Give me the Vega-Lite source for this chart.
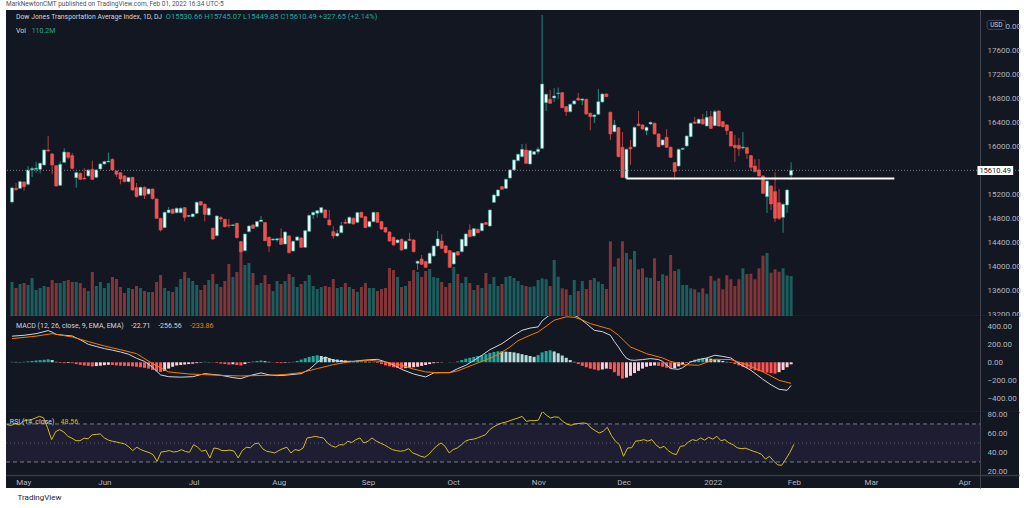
{
"$schema":"https://vega.github.io/schema/vega-lite/v6.json",
"background":"#ffffff",
"padding":{"left":5,"top":1,"right":0,"bottom":0},
"title":{"text":"MarkNewtonCMT published on TradingView.com, Feb 01, 2022 16:34 UTC-5","anchor":"start","frame":"group","fontSize":6.5,"fontWeight":"normal","color":"#50535e","font":"Roboto","offset":2.5},
"config":{"font":"Roboto","view":{"stroke":null,"fill":"#131722"},"axis":{"labelOverlap":false,"zindex":0,"tickCount":40}},
"spacing":0,
"bounds":"flush",
"datasets":{
"bars":[
{"i":-4,"o":15083,"h":15340,"l":15060,"c":15317,"v":93.7,"mh":5,"r":69.3},
{"i":-3,"o":15310,"h":15400,"l":15267,"c":15290,"v":77.1,"mh":4,"r":68.5},
{"i":-2,"o":15311,"h":15440,"l":15300,"c":15422,"v":88.2,"mh":3,"r":70.5},
{"i":-1,"o":15417,"h":15430,"l":15272,"c":15339,"v":90.9,"mh":6,"r":69},
{"i":0,"o":15378,"h":15683,"l":15360,"c":15617,"v":85.4,"mh":10,"r":73},
{"i":1,"o":15620,"h":15672,"l":15500,"c":15640,"v":104.7,"mh":15,"r":74},
{"i":2,"o":15630,"h":15756,"l":15572,"c":15645,"v":71.6,"mh":20,"r":74.5},
{"i":3,"o":15628,"h":15740,"l":15561,"c":15728,"v":77.1,"mh":24,"r":76.3},
{"i":4,"o":15700,"h":15960,"l":15690,"c":15950,"v":82.7,"mh":28,"r":78},
{"i":5,"o":15950,"h":16183,"l":15920,"c":15933,"v":79.9,"mh":33,"r":76.5},
{"i":6,"o":15883,"h":15900,"l":15545,"c":15700,"v":99.2,"mh":25,"r":66},
{"i":7,"o":15689,"h":15700,"l":15340,"c":15350,"v":90.9,"mh":5,"r":53.5},
{"i":8,"o":15361,"h":15761,"l":15350,"c":15711,"v":90.9,"mh":-8,"r":62},
{"i":9,"o":15745,"h":15978,"l":15730,"c":15917,"v":96.4,"mh":-10,"r":64},
{"i":10,"o":15906,"h":15920,"l":15800,"c":15828,"v":99.2,"mh":-8,"r":61.6},
{"i":11,"o":15856,"h":15900,"l":15630,"c":15644,"v":93.7,"mh":-10,"r":57},
{"i":12,"o":15488,"h":15590,"l":15322,"c":15572,"v":93.7,"mh":-20,"r":55},
{"i":13,"o":15561,"h":15575,"l":15450,"c":15461,"v":90.9,"mh":-28,"r":52.4},
{"i":14,"o":15483,"h":15645,"l":15455,"c":15467,"v":77.1,"mh":-35,"r":52.4},
{"i":15,"o":15517,"h":15630,"l":15505,"c":15617,"v":68.9,"mh":-40,"r":55},
{"i":16,"o":15628,"h":15772,"l":15450,"c":15461,"v":121.2,"mh":-45,"r":54.5},
{"i":17,"o":15494,"h":15630,"l":15480,"c":15617,"v":82.7,"mh":-42,"r":58.7},
{"i":18,"o":15633,"h":15730,"l":15620,"c":15717,"v":93.7,"mh":-38,"r":59},
{"i":19,"o":15717,"h":15770,"l":15705,"c":15756,"v":77.1,"mh":-32,"r":59.5},
{"i":20,"o":15750,"h":15906,"l":15740,"c":15765,"v":90.9,"mh":-28,"r":55.3},
{"i":21,"o":15794,"h":15810,"l":15600,"c":15617,"v":107.4,"mh":-30,"r":53},
{"i":22,"o":15600,"h":15610,"l":15500,"c":15545,"v":101.9,"mh":-35,"r":51.8},
{"i":23,"o":15572,"h":15580,"l":15378,"c":15467,"v":79.9,"mh":-38,"r":51},
{"i":24,"o":15517,"h":15530,"l":15410,"c":15422,"v":63.4,"mh":-40,"r":50},
{"i":25,"o":15422,"h":15500,"l":15410,"c":15489,"v":77.1,"mh":-42,"r":49},
{"i":26,"o":15494,"h":15500,"l":15270,"c":15283,"v":74.4,"mh":-45,"r":46},
{"i":27,"o":15322,"h":15400,"l":15160,"c":15172,"v":82.7,"mh":-50,"r":42},
{"i":28,"o":15194,"h":15340,"l":15180,"c":15328,"v":77.1,"mh":-55,"r":45.5},
{"i":29,"o":15328,"h":15340,"l":15133,"c":15194,"v":68.9,"mh":-62,"r":43},
{"i":30,"o":15217,"h":15310,"l":15205,"c":15300,"v":66.1,"mh":-70,"r":41.3},
{"i":31,"o":15300,"h":15310,"l":15125,"c":15139,"v":66.1,"mh":-85,"r":40},
{"i":32,"o":15133,"h":15145,"l":14800,"c":14811,"v":93.7,"mh":-100,"r":37.7},
{"i":33,"o":14811,"h":14820,"l":14589,"c":14617,"v":113,"mh":-107,"r":30.7},
{"i":34,"o":14656,"h":14925,"l":14645,"c":14911,"v":77.1,"mh":-95,"r":40.5},
{"i":35,"o":14905,"h":15000,"l":14895,"c":14950,"v":68.9,"mh":-70,"r":41},
{"i":36,"o":14961,"h":14975,"l":14880,"c":14894,"v":66.1,"mh":-50,"r":42},
{"i":37,"o":14905,"h":14990,"l":14895,"c":14978,"v":79.9,"mh":-35,"r":40.5},
{"i":38,"o":14905,"h":14995,"l":14895,"c":14978,"v":101.9,"mh":-30,"r":41},
{"i":39,"o":14989,"h":15000,"l":14761,"c":14828,"v":121.2,"mh":-25,"r":43},
{"i":40,"o":14845,"h":14870,"l":14830,"c":14858,"v":104.7,"mh":-20,"r":41},
{"i":41,"o":14839,"h":14895,"l":14825,"c":14883,"v":96.4,"mh":-15,"r":40.2},
{"i":42,"o":14894,"h":15090,"l":14880,"c":15078,"v":85.4,"mh":-10,"r":48.2},
{"i":43,"o":15089,"h":15100,"l":15020,"c":15033,"v":71.6,"mh":-5,"r":45.5},
{"i":44,"o":15045,"h":15060,"l":14761,"c":14878,"v":85.4,"mh":5,"r":41.3},
{"i":45,"o":14867,"h":14990,"l":14855,"c":14978,"v":99.2,"mh":3,"r":42.5},
{"i":46,"o":14644,"h":14660,"l":14450,"c":14467,"v":115.7,"mh":-3,"r":34.2},
{"i":47,"o":14522,"h":14860,"l":14510,"c":14850,"v":88.2,"mh":-8,"r":44.7},
{"i":48,"o":14820,"h":14850,"l":14750,"c":14800,"v":79.9,"mh":-15,"r":44},
{"i":49,"o":14794,"h":14805,"l":14660,"c":14672,"v":96.4,"mh":-20,"r":42},
{"i":50,"o":14700,"h":14800,"l":14650,"c":14690,"v":143.3,"mh":-25,"r":42},
{"i":51,"o":14690,"h":14720,"l":14680,"c":14702,"v":107.4,"mh":-22,"r":42.5},
{"i":52,"o":14728,"h":14740,"l":14475,"c":14489,"v":121.2,"mh":-30,"r":41.3},
{"i":53,"o":14422,"h":14435,"l":14240,"c":14255,"v":184.6,"mh":-35,"r":34.2},
{"i":54,"o":14272,"h":14560,"l":14260,"c":14550,"v":140.5,"mh":-20,"r":42},
{"i":55,"o":14589,"h":14695,"l":14578,"c":14683,"v":146,"mh":-5,"r":45.5},
{"i":56,"o":14700,"h":14710,"l":14630,"c":14645,"v":118.5,"mh":8,"r":45},
{"i":57,"o":14672,"h":14768,"l":14660,"c":14756,"v":85.4,"mh":15,"r":49},
{"i":58,"o":14756,"h":14850,"l":14745,"c":14783,"v":90.9,"mh":20,"r":50},
{"i":59,"o":14739,"h":14750,"l":14425,"c":14439,"v":113,"mh":12,"r":44},
{"i":60,"o":14495,"h":14505,"l":14250,"c":14350,"v":88.2,"mh":5,"r":41.3},
{"i":61,"o":14450,"h":14480,"l":14440,"c":14465,"v":68.9,"mh":-3,"r":40.5},
{"i":62,"o":14450,"h":14480,"l":14420,"c":14470,"v":96.4,"mh":-8,"r":39.5},
{"i":63,"o":14478,"h":14645,"l":14365,"c":14378,"v":88.2,"mh":-10,"r":42},
{"i":64,"o":14383,"h":14595,"l":14370,"c":14583,"v":96.4,"mh":-6,"r":44},
{"i":65,"o":14517,"h":14530,"l":14225,"c":14239,"v":115.7,"mh":-3,"r":45.5},
{"i":66,"o":14267,"h":14440,"l":14255,"c":14428,"v":107.4,"mh":5,"r":39.5},
{"i":67,"o":14445,"h":14512,"l":14435,"c":14500,"v":79.9,"mh":15,"r":43},
{"i":68,"o":14483,"h":14495,"l":14315,"c":14328,"v":88.2,"mh":30,"r":42},
{"i":69,"o":14328,"h":14615,"l":14315,"c":14605,"v":96.4,"mh":45,"r":44.7},
{"i":70,"o":14594,"h":14872,"l":14580,"c":14861,"v":113,"mh":60,"r":55.3},
{"i":71,"o":14867,"h":14923,"l":14800,"c":14911,"v":82.7,"mh":70,"r":56},
{"i":72,"o":14895,"h":14950,"l":14820,"c":14939,"v":74.4,"mh":78,"r":57},
{"i":73,"o":14905,"h":15000,"l":14890,"c":14989,"v":79.9,"mh":70,"r":56},
{"i":74,"o":14950,"h":14960,"l":14810,"c":14822,"v":82.7,"mh":60,"r":55.3},
{"i":75,"o":14783,"h":14950,"l":14690,"c":14700,"v":79.9,"mh":45,"r":50},
{"i":76,"o":14589,"h":14680,"l":14470,"c":14517,"v":101.9,"mh":35,"r":47},
{"i":77,"o":14517,"h":14620,"l":14505,"c":14561,"v":77.1,"mh":30,"r":45.5},
{"i":78,"o":14572,"h":14750,"l":14560,"c":14689,"v":79.9,"mh":25,"r":48.2},
{"i":79,"o":14745,"h":14800,"l":14715,"c":14728,"v":90.9,"mh":20,"r":48},
{"i":80,"o":14728,"h":14840,"l":14715,"c":14828,"v":79.9,"mh":15,"r":51.8},
{"i":81,"o":14812,"h":14825,"l":14705,"c":14717,"v":74.4,"mh":12,"r":50.5},
{"i":82,"o":14745,"h":14918,"l":14733,"c":14906,"v":66.1,"mh":10,"r":53.5},
{"i":83,"o":14911,"h":14923,"l":14815,"c":14828,"v":79.9,"mh":10,"r":55.3},
{"i":84,"o":14839,"h":14850,"l":14645,"c":14656,"v":90.9,"mh":8,"r":50},
{"i":85,"o":14672,"h":14768,"l":14660,"c":14756,"v":77.1,"mh":5,"r":51.8},
{"i":86,"o":14756,"h":14923,"l":14745,"c":14911,"v":77.1,"mh":2,"r":55.3},
{"i":87,"o":14906,"h":14918,"l":14733,"c":14745,"v":68.9,"mh":-8,"r":52},
{"i":88,"o":14756,"h":14768,"l":14620,"c":14633,"v":74.4,"mh":-20,"r":50},
{"i":89,"o":14656,"h":14668,"l":14570,"c":14583,"v":77.1,"mh":-35,"r":48},
{"i":90,"o":14583,"h":14595,"l":14420,"c":14433,"v":132.2,"mh":-45,"r":45.5},
{"i":91,"o":14495,"h":14505,"l":14355,"c":14367,"v":126.7,"mh":-55,"r":43},
{"i":92,"o":14405,"h":14462,"l":14393,"c":14450,"v":107.4,"mh":-62,"r":42},
{"i":93,"o":14461,"h":14473,"l":14270,"c":14283,"v":79.9,"mh":-70,"r":41.3},
{"i":94,"o":14300,"h":14440,"l":14288,"c":14428,"v":82.7,"mh":-65,"r":42},
{"i":95,"o":14461,"h":14570,"l":14433,"c":14445,"v":96.4,"mh":-60,"r":44},
{"i":96,"o":14450,"h":14462,"l":14243,"c":14255,"v":126.7,"mh":-55,"r":39.5},
{"i":97,"o":14061,"h":14107,"l":13950,"c":14095,"v":121.2,"mh":-50,"r":38},
{"i":98,"o":14133,"h":14200,"l":14033,"c":14045,"v":107.4,"mh":-40,"r":36},
{"i":99,"o":14089,"h":14101,"l":13983,"c":13995,"v":124,"mh":-30,"r":35},
{"i":100,"o":14061,"h":14240,"l":14049,"c":14228,"v":129.5,"mh":-20,"r":38},
{"i":101,"o":14183,"h":14362,"l":14171,"c":14350,"v":107.4,"mh":-10,"r":43},
{"i":102,"o":14350,"h":14600,"l":14338,"c":14467,"v":104.7,"mh":-5,"r":47},
{"i":103,"o":14433,"h":14545,"l":14299,"c":14311,"v":93.7,"mh":-3,"r":50},
{"i":104,"o":14350,"h":14362,"l":14227,"c":14239,"v":79.9,"mh":0,"r":46.5},
{"i":105,"o":14272,"h":14284,"l":13983,"c":13995,"v":90.9,"mh":3,"r":39.5},
{"i":106,"o":14050,"h":14251,"l":14038,"c":14239,"v":135,"mh":-2,"r":43},
{"i":107,"o":14255,"h":14267,"l":14188,"c":14200,"v":115.7,"mh":10,"r":44.7},
{"i":108,"o":14255,"h":14473,"l":14243,"c":14461,"v":90.9,"mh":25,"r":48},
{"i":109,"o":14350,"h":14562,"l":14338,"c":14550,"v":107.4,"mh":40,"r":51.8},
{"i":110,"o":14617,"h":14711,"l":14494,"c":14506,"v":90.9,"mh":50,"r":53.5},
{"i":111,"o":14517,"h":14651,"l":14505,"c":14639,"v":71.6,"mh":60,"r":54},
{"i":112,"o":14628,"h":14640,"l":14560,"c":14572,"v":85.4,"mh":70,"r":55.3},
{"i":113,"o":14605,"h":14740,"l":14593,"c":14728,"v":77.1,"mh":78,"r":57},
{"i":114,"o":14739,"h":14751,"l":14699,"c":14711,"v":118.5,"mh":90,"r":58.8},
{"i":115,"o":14683,"h":14962,"l":14671,"c":14950,"v":88.2,"mh":105,"r":64},
{"i":116,"o":15078,"h":15212,"l":15066,"c":15200,"v":107.4,"mh":115,"r":67},
{"i":117,"o":15183,"h":15295,"l":15171,"c":15283,"v":82.7,"mh":122,"r":69.3},
{"i":118,"o":15339,"h":15351,"l":15283,"c":15295,"v":88.2,"mh":120,"r":71},
{"i":119,"o":15311,"h":15473,"l":15299,"c":15461,"v":107.4,"mh":118,"r":72},
{"i":120,"o":15483,"h":15629,"l":15471,"c":15617,"v":110.2,"mh":115,"r":73.5},
{"i":121,"o":15617,"h":15795,"l":15605,"c":15783,"v":104.7,"mh":110,"r":75},
{"i":122,"o":15772,"h":15890,"l":15760,"c":15878,"v":96.4,"mh":100,"r":76.3},
{"i":123,"o":15839,"h":16050,"l":15827,"c":15961,"v":85.4,"mh":90,"r":78},
{"i":124,"o":15950,"h":16055,"l":15716,"c":15728,"v":82.7,"mh":80,"r":72.8},
{"i":125,"o":15717,"h":15951,"l":15705,"c":15939,"v":79.9,"mh":70,"r":73.5},
{"i":126,"o":15878,"h":15934,"l":15866,"c":15922,"v":81.8,"mh":60,"r":73.5},
{"i":127,"o":15922,"h":16000,"l":15880,"c":15961,"v":99.2,"mh":80,"r":74},
{"i":128,"o":15978,"h":18200,"l":15966,"c":17050,"v":103.9,"mh":110,"r":83.3},
{"i":129,"o":16739,"h":16890,"l":16600,"c":16878,"v":101.1,"mh":125,"r":79.2},
{"i":130,"o":16795,"h":16950,"l":16716,"c":16728,"v":82.7,"mh":133,"r":76.3},
{"i":131,"o":16817,"h":16980,"l":16750,"c":16850,"v":154.3,"mh":120,"r":77.5},
{"i":132,"o":16890,"h":16990,"l":16800,"c":16900,"v":108.3,"mh":100,"r":77},
{"i":133,"o":16905,"h":16917,"l":16643,"c":16655,"v":76.3,"mh":75,"r":72.8},
{"i":134,"o":16672,"h":16684,"l":16520,"c":16589,"v":73.6,"mh":50,"r":70},
{"i":135,"o":16589,"h":16723,"l":16577,"c":16711,"v":57.9,"mh":25,"r":68.6},
{"i":136,"o":16717,"h":16779,"l":16705,"c":16767,"v":99.2,"mh":5,"r":70},
{"i":137,"o":16811,"h":16900,"l":16771,"c":16783,"v":68.9,"mh":-20,"r":70.5},
{"i":138,"o":16780,"h":16812,"l":16700,"c":16800,"v":96.4,"mh":-40,"r":71},
{"i":139,"o":16795,"h":16807,"l":16538,"c":16550,"v":74.4,"mh":-55,"r":70.5},
{"i":140,"o":16561,"h":16573,"l":16280,"c":16505,"v":99.2,"mh":-70,"r":65.8},
{"i":141,"o":16505,"h":16545,"l":16400,"c":16533,"v":104.7,"mh":-80,"r":63},
{"i":142,"o":16545,"h":16970,"l":16533,"c":16755,"v":94.5,"mh":-90,"r":60.5},
{"i":143,"o":16750,"h":16895,"l":16738,"c":16883,"v":88.2,"mh":-80,"r":62.3},
{"i":144,"o":16883,"h":16895,"l":16827,"c":16839,"v":74.4,"mh":-70,"r":66.5},
{"i":145,"o":16578,"h":16590,"l":16117,"c":16217,"v":205.8,"mh":-75,"r":58},
{"i":146,"o":16255,"h":16450,"l":16243,"c":16367,"v":135.8,"mh":-110,"r":51.8},
{"i":147,"o":16322,"h":16334,"l":15827,"c":15839,"v":159,"mh":-150,"r":48.2},
{"i":148,"o":15995,"h":16250,"l":15483,"c":15495,"v":205.8,"mh":-181,"r":36},
{"i":149,"o":15478,"h":15973,"l":15466,"c":15961,"v":173.6,"mh":-170,"r":44.7},
{"i":150,"o":15995,"h":16117,"l":15700,"c":15967,"v":156.2,"mh":-150,"r":45},
{"i":151,"o":16005,"h":16340,"l":15993,"c":16328,"v":179.1,"mh":-120,"r":52},
{"i":152,"o":16383,"h":16600,"l":16343,"c":16355,"v":128.7,"mh":-95,"r":52.4},
{"i":153,"o":16367,"h":16379,"l":16288,"c":16300,"v":131.4,"mh":-70,"r":53.5},
{"i":154,"o":16272,"h":16340,"l":16200,"c":16328,"v":106.6,"mh":-50,"r":52},
{"i":155,"o":16383,"h":16423,"l":16371,"c":16411,"v":104.7,"mh":-40,"r":53.5},
{"i":156,"o":16395,"h":16407,"l":16205,"c":16217,"v":159,"mh":-35,"r":48},
{"i":157,"o":16217,"h":16229,"l":15993,"c":16005,"v":96.4,"mh":-40,"r":44.7},
{"i":158,"o":16033,"h":16129,"l":16021,"c":16117,"v":114.9,"mh":-50,"r":46.5},
{"i":159,"o":16161,"h":16300,"l":15983,"c":15995,"v":111,"mh":-60,"r":42},
{"i":160,"o":15995,"h":16007,"l":15816,"c":15828,"v":168.1,"mh":-70,"r":39},
{"i":161,"o":15739,"h":15751,"l":15450,"c":15589,"v":124,"mh":-65,"r":37.7},
{"i":162,"o":15683,"h":15973,"l":15671,"c":15961,"v":128.7,"mh":-45,"r":46.5},
{"i":163,"o":15961,"h":15990,"l":15949,"c":15978,"v":85.4,"mh":-25,"r":47},
{"i":164,"o":16017,"h":16195,"l":16005,"c":16183,"v":85.4,"mh":-5,"r":51},
{"i":165,"o":16172,"h":16407,"l":16160,"c":16395,"v":76.3,"mh":15,"r":53.5},
{"i":166,"o":16417,"h":16500,"l":16383,"c":16395,"v":73.6,"mh":30,"r":52.4},
{"i":167,"o":16395,"h":16473,"l":16383,"c":16461,"v":65.3,"mh":40,"r":55.3},
{"i":168,"o":16461,"h":16550,"l":16371,"c":16383,"v":76.3,"mh":48,"r":53},
{"i":169,"o":16350,"h":16600,"l":16338,"c":16495,"v":61.4,"mh":45,"r":56},
{"i":170,"o":16505,"h":16600,"l":16299,"c":16311,"v":110.2,"mh":40,"r":54},
{"i":171,"o":16355,"h":16620,"l":16343,"c":16589,"v":97.3,"mh":32,"r":57},
{"i":172,"o":16600,"h":16612,"l":16338,"c":16350,"v":103.9,"mh":25,"r":52.4},
{"i":173,"o":16422,"h":16434,"l":16327,"c":16339,"v":73.6,"mh":15,"r":53.5},
{"i":174,"o":16367,"h":16379,"l":16200,"c":16272,"v":112.1,"mh":5,"r":50},
{"i":175,"o":16255,"h":16267,"l":16005,"c":16017,"v":101.1,"mh":-8,"r":48.2},
{"i":176,"o":16028,"h":16200,"l":15750,"c":15989,"v":82.7,"mh":-20,"r":45},
{"i":177,"o":16028,"h":16150,"l":15850,"c":15972,"v":101.1,"mh":-35,"r":44},
{"i":178,"o":15985,"h":16250,"l":15960,"c":16000,"v":131.4,"mh":-50,"r":44.5},
{"i":179,"o":15989,"h":16001,"l":15800,"c":15895,"v":115.7,"mh":-62,"r":43},
{"i":180,"o":15856,"h":15868,"l":15600,"c":15661,"v":116.5,"mh":-75,"r":41.3},
{"i":181,"o":15683,"h":15800,"l":15577,"c":15589,"v":101.1,"mh":-88,"r":40},
{"i":182,"o":15617,"h":15800,"l":15505,"c":15517,"v":131.4,"mh":-98,"r":38},
{"i":183,"o":15517,"h":15529,"l":15216,"c":15228,"v":166.1,"mh":-108,"r":33},
{"i":184,"o":15172,"h":15445,"l":14900,"c":15433,"v":173.6,"mh":-115,"r":36},
{"i":185,"o":15350,"h":15362,"l":14950,"c":15050,"v":119.3,"mh":-120,"r":31},
{"i":186,"o":15256,"h":15580,"l":14750,"c":14811,"v":128.7,"mh":-126,"r":27},
{"i":187,"o":15072,"h":15300,"l":14780,"c":14811,"v":122,"mh":-110,"r":26.5},
{"i":188,"o":14828,"h":15057,"l":14572,"c":15045,"v":131.4,"mh":-85,"r":33},
{"i":189,"o":15033,"h":15295,"l":14900,"c":15283,"v":112.1,"mh":-55,"r":40},
{"i":190,"o":15530.66,"h":15745.07,"l":15449.85,"c":15610.49,"v":110.2,"mh":-22.71,"r":48.56}
],
"macd":[
{"i":-4,"m":290},{"i":-1,"m":300},{"i":2,"m":318},{"i":5,"m":352},{"i":6,"m":335},{"i":7,"m":310},{"i":9,"m":300},{"i":11,"m":292},{"i":13,"m":250},{"i":15,"m":200},{"i":17,"m":175},{"i":19,"m":152},{"i":21,"m":135},{"i":23,"m":115},{"i":25,"m":90},{"i":27,"m":45},{"i":29,"m":10},{"i":31,"m":-55},{"i":33,"m":-140},{"i":35,"m":-160},{"i":38,"m":-165},{"i":41,"m":-160},{"i":44,"m":-126},{"i":46,"m":-135},{"i":48,"m":-144},{"i":51,"m":-170},{"i":53,"m":-181},{"i":55,"m":-150},{"i":58,"m":-118},{"i":60,"m":-140},{"i":62,"m":-148},{"i":64,"m":-144},{"i":66,"m":-135},{"i":68,"m":-126},{"i":70,"m":-80},{"i":71,"m":-40},{"i":72,"m":0},{"i":73,"m":30},{"i":74,"m":59},{"i":75,"m":40},{"i":77,"m":11},{"i":79,"m":10},{"i":81,"m":11},{"i":84,"m":25},{"i":87,"m":33},{"i":89,"m":5},{"i":91,"m":-30},{"i":93,"m":-78},{"i":96,"m":-130},{"i":99,"m":-163},{"i":101,"m":-118},{"i":103,"m":-115},{"i":105,"m":-115},{"i":107,"m":-70},{"i":109,"m":-33},{"i":111,"m":20},{"i":113,"m":78},{"i":115,"m":140},{"i":118,"m":207},{"i":121,"m":300},{"i":123,"m":355},{"i":125,"m":380},{"i":127,"m":393},{"i":128,"m":460},{"i":130,"m":530},{"i":133,"m":560},{"i":135,"m":540},{"i":137,"m":500},{"i":139,"m":430},{"i":141,"m":355},{"i":143,"m":340},{"i":145,"m":300},{"i":146,"m":230},{"i":147,"m":170},{"i":148,"m":100},{"i":149,"m":45},{"i":150,"m":25},{"i":151,"m":22},{"i":153,"m":30},{"i":155,"m":41},{"i":157,"m":30},{"i":158,"m":11},{"i":160,"m":-70},{"i":162,"m":-78},{"i":163,"m":-60},{"i":165,"m":4},{"i":167,"m":30},{"i":169,"m":48},{"i":171,"m":78},{"i":173,"m":65},{"i":175,"m":48},{"i":177,"m":-15},{"i":180,"m":-89},{"i":183,"m":-190},{"i":185,"m":-250},{"i":187,"m":-300},{"i":189,"m":-311},{"i":190,"m":-256.56}
],
"signal":[
{"i":-4,"s":263},{"i":2,"s":290},{"i":6,"s":318},{"i":11,"s":281},{"i":15,"s":230},{"i":19,"s":181},{"i":23,"s":140},{"i":27,"s":96},{"i":31,"s":-15},{"i":35,"s":-107},{"i":40,"s":-130},{"i":44,"s":-137},{"i":48,"s":-145},{"i":53,"s":-152},{"i":60,"s":-144},{"i":64,"s":-135},{"i":68,"s":-115},{"i":72,"s":-70},{"i":76,"s":-26},{"i":80,"s":5},{"i":85,"s":22},{"i":89,"s":4},{"i":93,"s":-33},{"i":96,"s":-75},{"i":99,"s":-107},{"i":102,"s":-115},{"i":105,"s":-115},{"i":107,"s":-95},{"i":109,"s":-60},{"i":111,"s":-25},{"i":113,"s":10},{"i":115,"s":45},{"i":117,"s":85},{"i":120,"s":170},{"i":122,"s":240},{"i":125,"s":300},{"i":127,"s":337},{"i":129,"s":400},{"i":131,"s":467},{"i":134,"s":505},{"i":136,"s":500},{"i":138,"s":470},{"i":140,"s":430},{"i":145,"s":367},{"i":147,"s":300},{"i":150,"s":170},{"i":154,"s":96},{"i":158,"s":48},{"i":160,"s":10},{"i":163,"s":-26},{"i":167,"s":-33},{"i":171,"s":33},{"i":175,"s":30},{"i":179,"s":-26},{"i":183,"s":-107},{"i":187,"s":-200},{"i":190,"s":-233.86}
]
},
"vconcat":[
{
"width":1013,"height":306,
"layer":[
{"data":{"name":"bars"},
"mark":{"type":"bar","width":3,"opacity":0.5},
"encoding":{
"x":{"field":"i","type":"quantitative","scale":{"domain":[-4.25,245.5],"nice":false,"zero":false},"axis":{"title":null,"labels":false,"ticks":false,"grid":false,"domain":true,"domainColor":"#363a45","domainWidth":1.5}},
"y":{"field":"v","type":"quantitative","scale":{"domain":[0,843],"nice":false},"axis":null},
"color":{"condition":{"test":"datum.c >= datum.o","value":"#26a69a"},"value":"#ef5350"}}},
{"layer":[
{"data":{"name":"bars"},
"mark":{"type":"rule","strokeWidth":1},
"encoding":{
"x":{"field":"i","type":"quantitative","axis":{"title":null,"labels":false,"ticks":false,"grid":false,"domain":true,"domainColor":"#363a45","domainWidth":1.5}},
"y":{"field":"l","type":"quantitative","scale":{"domain":[13183,18283],"nice":false,"zero":false},"axis":{"title":null,"orient":"right","offset":-39,"values":[13200,13600,14000,14400,14800,15200,16000,16400,16800,17200,17600,18000],"tickCount":40,"format":".2f","labelColor":"#b2b5be","labelFontSize":8,"labelPadding":7,"ticks":false,"grid":false,"domain":true,"domainColor":"#434651","labelOverlap":false,"labelBound":false,"zindex":0}},
"y2":{"field":"h"},
"color":{"condition":{"test":"datum.c >= datum.o","value":"#1f8a80"},"value":"#b2403f"}}},
{"data":{"name":"bars"},
"mark":{"type":"bar","width":3,"strokeWidth":0.6},
"encoding":{
"x":{"field":"i","type":"quantitative"},
"y":{"field":"o","type":"quantitative"},
"y2":{"field":"c"},
"fill":{"condition":{"test":"datum.c >= datum.o","value":"#f4fbfa"},"value":"#ef5350"},
"stroke":{"condition":{"test":"datum.c >= datum.o","value":"#26a69a"},"value":"#ef5350"}}},
{"data":{"values":[{}]},
"mark":{"type":"rule","color":"#787b86","strokeDash":[1,2],"strokeWidth":1},
"encoding":{"y":{"datum":15610.49,"type":"quantitative"}}},
{"data":{"values":[{}]},
"mark":{"type":"rule","color":"#ffffff","strokeWidth":2},
"encoding":{"x":{"datum":149,"type":"quantitative"},"x2":{"datum":215.7},"y":{"datum":15475,"type":"quantitative"}}},
{"data":{"values":[{}]},
"mark":{"type":"rect","color":"#ffffff"},
"encoding":{"x":{"datum":236.4,"type":"quantitative"},"x2":{"datum":245.3},"y":{"datum":15533,"type":"quantitative"},"y2":{"datum":15685}}},
{"data":{"values":[{}]},
"mark":{"type":"text","color":"#131722","fontSize":7.5,"align":"center","baseline":"middle"},
"encoding":{"x":{"datum":240.8,"type":"quantitative"},"y":{"datum":15608,"type":"quantitative"},"text":{"value":"15610.49"}}},
{"data":{"values":[{}]},
"mark":{"type":"rect","fill":"#131722","stroke":"#50535e","strokeWidth":0.8,"cornerRadius":2},
"encoding":{"x":{"datum":238.8,"type":"quantitative"},"x2":{"datum":243.4},"y":{"datum":17960,"type":"quantitative"},"y2":{"datum":18110}}},
{"data":{"values":[{}]},
"mark":{"type":"text","color":"#d1d4dc","fontSize":6.5,"align":"center","baseline":"middle"},
"encoding":{"x":{"datum":241.1,"type":"quantitative"},"y":{"datum":18035,"type":"quantitative"},"text":{"value":"USD"}}},
{"data":{"values":[{}]},
"mark":{"type":"text","color":"#d1d4dc","fontSize":6.8,"align":"left","baseline":"middle"},
"encoding":{"x":{"datum":-3.0,"type":"quantitative"},"y":{"datum":18167,"type":"quantitative"},"text":{"value":"Dow Jones Transportation Average Index, 1D, DJ"}}},
{"data":{"values":[{}]},
"mark":{"type":"text","color":"#26a69a","fontSize":7.5,"align":"left","baseline":"middle"},
"encoding":{"x":{"datum":34.3,"type":"quantitative"},"y":{"datum":18167,"type":"quantitative"},"text":{"value":"O15530.66   H15745.07   L15449.85   C15610.49   +327.65 (+2.14%)"}}},
{"data":{"values":[{}]},
"mark":{"type":"text","color":"#d1d4dc","fontSize":7,"align":"left","baseline":"middle"},
"encoding":{"x":{"datum":-3.0,"type":"quantitative"},"y":{"datum":17933,"type":"quantitative"},"text":{"value":"Vol"}}},
{"data":{"values":[{}]},
"mark":{"type":"text","color":"#26a69a","fontSize":7,"align":"left","baseline":"middle"},
"encoding":{"x":{"datum":0.9,"type":"quantitative"},"y":{"datum":17933,"type":"quantitative"},"text":{"value":"110.2M"}}}
]}
],
"resolve":{"scale":{"y":"independent"}}
},
{
"width":1013,"height":96,
"layer":[
{"data":{"name":"bars"},
"transform":[{"window":[{"op":"lag","field":"mh","as":"hp"}],"sort":[{"field":"i","order":"ascending"}]}],
"mark":{"type":"bar","width":3},
"encoding":{
"x":{"field":"i","type":"quantitative","scale":{"domain":[-4.25,245.5],"nice":false,"zero":false},"axis":{"title":null,"labels":false,"ticks":false,"grid":false,"domain":true,"domainColor":"#363a45","domainWidth":1.5}},
"y":{"field":"mh","type":"quantitative","scale":{"domain":[-552,514],"nice":false,"zero":false},"axis":{"title":null,"orient":"right","offset":-39,"values":[-400,-200,0,200,400],"tickCount":40,"format":".2f","labelColor":"#b2b5be","labelFontSize":8,"labelPadding":7,"ticks":false,"grid":false,"domain":true,"domainColor":"#434651","labelOverlap":false,"labelBound":false,"zindex":0}},
"color":{"condition":[{"test":"datum.mh >= 0 && datum.mh >= datum.hp","value":"#26a69a"},{"test":"datum.mh >= 0","value":"#b2dfdb"},{"test":"datum.mh < datum.hp","value":"#ff5252"}],"value":"#ffcdd2"}}},
{"data":{"name":"macd"},
"mark":{"type":"line","color":"#d1d4dc","strokeWidth":1,"clip":true},
"encoding":{"x":{"field":"i","type":"quantitative"},"y":{"field":"m","type":"quantitative"}}},
{"data":{"name":"signal"},
"mark":{"type":"line","color":"#f57c00","strokeWidth":1,"clip":true},
"encoding":{"x":{"field":"i","type":"quantitative"},"y":{"field":"s","type":"quantitative"}}},
{"data":{"values":[{}]},
"mark":{"type":"text","color":"#d1d4dc","fontSize":7,"align":"left","baseline":"middle"},
"encoding":{"x":{"datum":-3.0,"type":"quantitative"},"y":{"datum":403,"type":"quantitative"},"text":{"value":"MACD (12, 26, close, 9, EMA, EMA)"}}},
{"data":{"values":[{}]},
"mark":{"type":"text","color":"#ffcdd2","fontSize":7,"align":"left","baseline":"middle"},
"encoding":{"x":{"datum":25.6,"type":"quantitative"},"y":{"datum":403,"type":"quantitative"},"text":{"value":"-22.71"}}},
{"data":{"values":[{}]},
"mark":{"type":"text","color":"#d1d4dc","fontSize":7,"align":"left","baseline":"middle"},
"encoding":{"x":{"datum":32.4,"type":"quantitative"},"y":{"datum":403,"type":"quantitative"},"text":{"value":"-256.56"}}},
{"data":{"values":[{}]},
"mark":{"type":"text","color":"#f57c00","fontSize":7,"align":"left","baseline":"middle"},
"encoding":{"x":{"datum":40.3,"type":"quantitative"},"y":{"datum":403,"type":"quantitative"},"text":{"value":"-233.86"}}}
]
},
{
"width":1013,"height":76,
"layer":[
{"data":{"values":[{}]},
"mark":{"type":"rect","color":"#7e57c2","opacity":0.1},
"encoding":{"x":{"datum":-4.25,"type":"quantitative","scale":{"domain":[-4.25,245.5],"nice":false,"zero":false}},"x2":{"datum":235.9},"y":{"datum":30,"type":"quantitative","scale":{"domain":[2.6,82.6],"nice":false,"zero":false}},"y2":{"datum":70}}},
{"data":{"values":[{}]},
"mark":{"type":"rule","color":"#787b86","strokeDash":[4,3],"strokeWidth":1},
"encoding":{"x":{"datum":-4.25,"type":"quantitative"},"x2":{"datum":235.9},"y":{"datum":70,"type":"quantitative"}}},
{"data":{"values":[{}]},
"mark":{"type":"rule","color":"#787b86","strokeDash":[4,3],"strokeWidth":1},
"encoding":{"x":{"datum":-4.25,"type":"quantitative"},"x2":{"datum":235.9},"y":{"datum":30,"type":"quantitative"}}},
{"data":{"values":[{}]},
"mark":{"type":"rule","color":"#787b86","strokeDash":[1,3],"strokeWidth":1,"opacity":0.7},
"encoding":{"x":{"datum":-4.25,"type":"quantitative"},"x2":{"datum":235.9},"y":{"datum":50,"type":"quantitative"}}},
{"data":{"name":"bars"},
"mark":{"type":"line","color":"#d4bd1f","strokeWidth":1,"clip":true},
"encoding":{
"x":{"field":"i","type":"quantitative","axis":{"title":"TradingView","orient":"bottom","offset":-13,"values":[0,20,42,63,85,106,127,148,170,190,209,232],"tickCount":40,"labelExpr":"['May','Jun','Jul','Aug','Sep','Oct','Nov','Dec','2022','Feb','Mar','Apr'][indexof([0,20,42,63,85,106,127,148,170,190,209,232], datum.value)]","labelColor":"#b2b5be","labelFontSize":8,"labelPadding":3,"ticks":false,"grid":false,"domain":true,"domainColor":"#363a45","domainWidth":1.5,"labelOverlap":false,"labelBound":false,"titleColor":"#1e222d","titleFontSize":8,"titleFontWeight":"normal","titleAnchor":"start","titleAlign":"left","titleBaseline":"middle","titleX":11,"titleY":22}},
"y":{"field":"r","type":"quantitative","axis":{"title":null,"orient":"right","offset":-39,"values":[20,40,60,80],"tickCount":40,"format":".2f","labelColor":"#b2b5be","labelFontSize":8,"labelPadding":7,"ticks":false,"grid":false,"domain":true,"domainColor":"#434651","labelOverlap":false,"labelBound":false,"zindex":0}}}},
{"data":{"values":[{}]},
"mark":{"type":"text","color":"#d1d4dc","fontSize":7,"align":"left","baseline":"middle"},
"encoding":{"x":{"datum":-3.3,"type":"quantitative"},"y":{"datum":72.6,"type":"quantitative"},"text":{"value":"RSI (14, close)"}}},
{"data":{"values":[{}]},
"mark":{"type":"text","color":"#d4bd1f","fontSize":7,"align":"left","baseline":"middle"},
"encoding":{"x":{"datum":9.2,"type":"quantitative"},"y":{"datum":72.6,"type":"quantitative"},"text":{"value":"48.56"}}}
]
}
]
}
